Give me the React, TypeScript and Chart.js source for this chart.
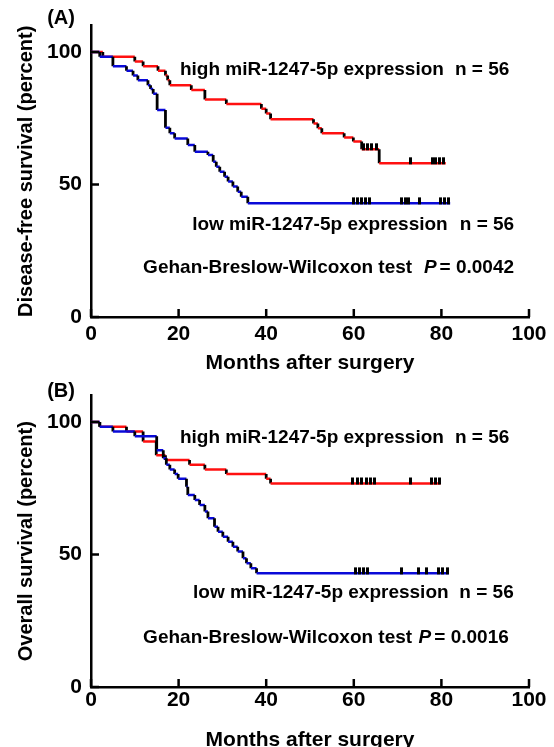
import React, { useEffect, useRef } from 'react';
import { Chart, registerables } from 'chart.js';

Chart.register(...registerables);

const FONT = "Arial, 'Liberation Sans', Helvetica, sans-serif";
const RED = '#ff1010';
const BLUE = '#0a0ad8';

// ---------- Panel A: disease-free survival ----------
const dfsHighTimes = [0, 2.7, 10.0, 11.9, 15.3, 17.0, 17.5, 18.0, 22.9, 26.0, 30.9, 38.9, 40.0, 41.0, 50.8, 51.8, 52.7, 57.8, 59.9, 61.8, 65.8];
const dfsHighSurv = [100, 98.2, 96.4, 94.6, 92.9, 91.1, 89.3, 87.5, 85.7, 82.1, 80.4, 78.6, 76.8, 74.6, 73.0, 71.2, 69.3, 67.7, 66.2, 63.3, 58.0];
const dfsHighCensor = [62.2, 63.1, 64.1, 65.1, 73.0, 77.9, 78.7, 79.5, 80.4];
const dfsHighEnd = 81.0;

const dfsLowTimes = [0, 2.0, 5.0, 8.1, 9.6, 10.7, 13.0, 13.6, 14.2, 15.1, 17.0, 18.0, 19.1, 22.1, 23.7, 26.7, 27.9, 28.6, 29.4, 30.5, 31.3, 32.4, 33.5, 34.3, 35.8];
const dfsLowSurv = [100, 98.2, 94.6, 92.9, 91.1, 89.3, 87.5, 86.0, 84.2, 78.1, 71.4, 69.3, 67.4, 64.9, 62.4, 61.1, 58.6, 56.7, 54.8, 52.9, 51.1, 49.2, 47.3, 45.4, 42.9];
const dfsLowCensor = [60.0, 60.8, 61.7, 62.6, 63.5, 70.9, 71.7, 72.4, 74.9, 79.8, 80.6, 81.6];
const dfsLowEnd = 82.0;

// ---------- Panel B: overall survival ----------
const osHighTimes = [0, 2.0, 8.1, 11.9, 14.9, 17.0, 22.5, 26.0, 30.9, 40.0, 41.0];
const osHighSurv = [100, 98.2, 96.4, 92.6, 87.5, 85.7, 83.9, 82.1, 80.4, 78.6, 76.8];
const osHighCensor = [59.8, 60.8, 61.8, 62.8, 63.8, 64.8, 72.9, 77.7, 78.6, 79.6];
const osHighEnd = 79.8;

const osLowTimes = [0, 2.0, 5.0, 10.0, 15.0, 16.5, 17.2, 18.0, 19.1, 19.9, 21.8, 22.1, 23.7, 24.8, 26.0, 26.7, 28.2, 29.0, 30.1, 31.3, 32.4, 33.5, 34.7, 35.5, 36.5, 37.8];
const osLowSurv = [100, 98.2, 96.4, 94.6, 89.3, 86.3, 83.9, 82.1, 80.4, 78.6, 75.6, 72.5, 70.6, 68.7, 66.2, 63.7, 60.5, 58.6, 56.7, 54.8, 52.9, 51.1, 48.6, 46.7, 44.8, 42.9];
const osLowCensor = [60.5, 61.4, 62.3, 63.2, 70.8, 74.8, 76.7, 79.4, 80.3, 81.3];
const osLowEnd = 81.7;

// ---------- axes & labels ----------
const xTicks = [0, 20, 40, 60, 80, 100];
const yTicks = [0, 50, 100];
const xTitle = 'Months after surgery';
const yTitleA = 'Disease-free survival (percent)';
const yTitleB = 'Overall survival (percent)';
const panelLabels = ['(A)', '(B)'];
const highLabel = 'high miR-1247-5p expression';
const lowLabel = 'low miR-1247-5p expression';
const nLabel = 'n = 56';
const testLabel = 'Gehan-Breslow-Wilcoxon test';
const pLetter = 'P';
const pValueA = '= 0.0042';
const pValueB = '= 0.0016';

function stepPoints(times: number[], surv: number[], end: number) {
  const pts: { x: number; y: number }[] = [{ x: times[0], y: surv[0] }];
  for (let i = 1; i < times.length; i++) {
    pts.push({ x: times[i], y: surv[i - 1] });
    pts.push({ x: times[i], y: surv[i] });
  }
  pts.push({ x: end, y: surv[surv.length - 1] });
  return pts;
}

function levelAt(times: number[], surv: number[], t: number) {
  let v = surv[0];
  for (let i = 0; i < times.length; i++) if (times[i] <= t) v = surv[i];
  return v;
}

function makeTickImage() {
  const c = document.createElement('canvas');
  c.width = 3;
  c.height = 14;
  const g = c.getContext('2d')!;
  g.fillStyle = '#000';
  g.fillRect(0, 1, 3, 7);
  return c;
}

type TextItem = { x: number; y: number; parts: { text: string; italic?: boolean; gap?: number }[] };

function buildConfig(opts: {
  high: [number[], number[], number[], number];
  low: [number[], number[], number[], number];
  yTitle: string;
  label: string;
  labelY: number;
  texts: TextItem[];
  height: number;
  xLabelPad: number;
}) {
  const tickImg = makeTickImage();
  const lineDs = (d: [number[], number[], number[], number], color: string) => ({
    type: 'line' as const,
    data: stepPoints(d[0], d[1], d[3]),
    borderColor: color,
    borderWidth: 2.5,
    pointRadius: 0,
    tension: 0,
    fill: false,
    segment: {
      borderColor: (c: any) => (c.p0.parsed.x === c.p1.parsed.x ? '#000' : color),
      borderWidth: (c: any) => (c.p0.parsed.x === c.p1.parsed.x ? 2.8 : 2.5),
    },
  });
  const censorDs = (d: [number[], number[], number[], number]) => ({
    type: 'scatter' as const,
    data: d[2].map((t) => ({ x: t, y: levelAt(d[0], d[1], t) })),
    pointStyle: tickImg,
    pointRadius: 5,
    showLine: false,
  });

  const boldFont = (size: number) => ({ family: FONT, size, weight: 'bold' as const });

  const decorPlugin = {
    id: 'decor',
    afterDraw(chart: any) {
      const { ctx, chartArea, scales } = chart;
      const xs = scales.x;
      const ys = scales.y;
      ctx.save();
      // inward tick marks
      ctx.strokeStyle = '#000';
      ctx.lineWidth = 2.5;
      ctx.beginPath();
      xTicks.forEach((v) => {
        const px = xs.getPixelForValue(v);
        ctx.moveTo(px, chartArea.bottom);
        ctx.lineTo(px, chartArea.bottom - 8);
      });
      yTicks.forEach((v) => {
        const py = ys.getPixelForValue(v);
        ctx.moveTo(chartArea.left, py);
        ctx.lineTo(chartArea.left + 8, py);
      });
      ctx.stroke();
      // panel label
      ctx.fillStyle = '#000';
      ctx.textBaseline = 'middle';
      ctx.textAlign = 'left';
      ctx.font = `bold 20px ${FONT}`;
      ctx.fillText(opts.label, xs.getPixelForValue(-10), ys.getPixelForValue(opts.labelY));
      // annotations
      opts.texts.forEach((t) => {
        let px = xs.getPixelForValue(t.x);
        const py = ys.getPixelForValue(t.y);
        t.parts.forEach((p) => {
          ctx.font = `${p.italic ? 'italic ' : ''}bold 19px ${FONT}`;
          ctx.fillText(p.text, px, py);
          px += ctx.measureText(p.text).width + (p.gap ?? 0);
        });
      });
      ctx.restore();
    },
  };

  return {
    data: {
      datasets: [censorDs(opts.low), censorDs(opts.high), lineDs(opts.low, BLUE), lineDs(opts.high, RED)],
    },
    options: {
      responsive: false,
      animation: false,
      devicePixelRatio: 1,
      layout: { padding: { top: 25.5, left: 0, right: 25, bottom: 0 } },
      plugins: { legend: { display: false }, tooltip: { enabled: false }, title: { display: false } },
      scales: {
        x: {
          type: 'linear',
          min: 0,
          max: 100,
          afterBuildTicks: (s: any) => {
            s.ticks = xTicks.map((v) => ({ value: v }));
          },
          afterFit: (s: any) => {
            s.height = opts.height - 317;
          },
          ticks: { color: '#000', font: boldFont(21), padding: opts.xLabelPad, maxRotation: 0, autoSkip: false },
          grid: { display: true, drawOnChartArea: false, drawTicks: false },
          border: { display: true, color: '#000', width: 2.5 },
          title: { display: true, text: xTitle, color: '#000', font: boldFont(21), padding: { top: 0, bottom: 0 } },
        },
        y: {
          type: 'linear',
          min: 0,
          max: 110,
          afterBuildTicks: (s: any) => {
            s.ticks = yTicks.map((v) => ({ value: v }));
          },
          afterFit: (s: any) => {
            s.width = 91;
          },
          ticks: { color: '#000', font: boldFont(21), padding: 9 },
          grid: { display: true, drawOnChartArea: false, drawTicks: false },
          border: { display: true, color: '#000', width: 2.5 },
          title: { display: true, text: opts.yTitle, color: '#000', font: boldFont(20), padding: { top: 14, bottom: 0 } },
        },
      },
    },
    plugins: [decorPlugin],
  };
}

function Panel({ top, height, cfg }: { top: number; height: number; cfg: any }) {
  const ref = useRef<HTMLCanvasElement>(null);
  useEffect(() => {
    const chart = new Chart(ref.current!, cfg);
    return () => chart.destroy();
  }, []);
  return (
    <canvas
      ref={ref}
      width={554}
      height={height}
      style={{ position: 'absolute', left: 0, top, width: 554, height }}
    />
  );
}

export default function App() {
  const hA = 376;
  const hB = 383;
  const cfgA = buildConfig({
    high: [dfsHighTimes, dfsHighSurv, dfsHighCensor, dfsHighEnd],
    low: [dfsLowTimes, dfsLowSurv, dfsLowCensor, dfsLowEnd],
    yTitle: yTitleA,
    label: panelLabels[0],
    labelY: 112.6,
    height: hA,
    xLabelPad: 5,
    texts: [
      { x: 20.3, y: 93.2, parts: [{ text: highLabel }] },
      { x: 83.1, y: 93.2, parts: [{ text: nLabel }] },
      { x: 23.1, y: 34.7, parts: [{ text: lowLabel }] },
      { x: 84.2, y: 34.7, parts: [{ text: nLabel }] },
      { x: 11.9, y: 18.5, parts: [{ text: testLabel }] },
      { x: 76.0, y: 18.5, parts: [{ text: pLetter, italic: true, gap: 3 }, { text: pValueA }] },
    ],
  });
  const cfgB = buildConfig({
    high: [osHighTimes, osHighSurv, osHighCensor, osHighEnd],
    low: [osLowTimes, osLowSurv, osLowCensor, osLowEnd],
    yTitle: yTitleB,
    label: panelLabels[1],
    labelY: 111.7,
    height: hB,
    xLabelPad: 1,
    texts: [
      { x: 20.3, y: 94.0, parts: [{ text: highLabel }] },
      { x: 83.1, y: 94.0, parts: [{ text: nLabel }] },
      { x: 23.3, y: 35.5, parts: [{ text: lowLabel }] },
      { x: 84.1, y: 35.5, parts: [{ text: nLabel }] },
      { x: 11.9, y: 18.5, parts: [{ text: testLabel }] },
      { x: 74.8, y: 18.5, parts: [{ text: pLetter, italic: true, gap: 3 }, { text: pValueB }] },
    ],
  });
  return (
    <div style={{ position: 'absolute', left: 0, top: 0, width: 554, height: 747, overflow: 'hidden', background: '#fff' }}>
      <Panel top={0} height={hA} cfg={cfgA} />
      <Panel top={370} height={hB} cfg={cfgB} />
    </div>
  );
}
